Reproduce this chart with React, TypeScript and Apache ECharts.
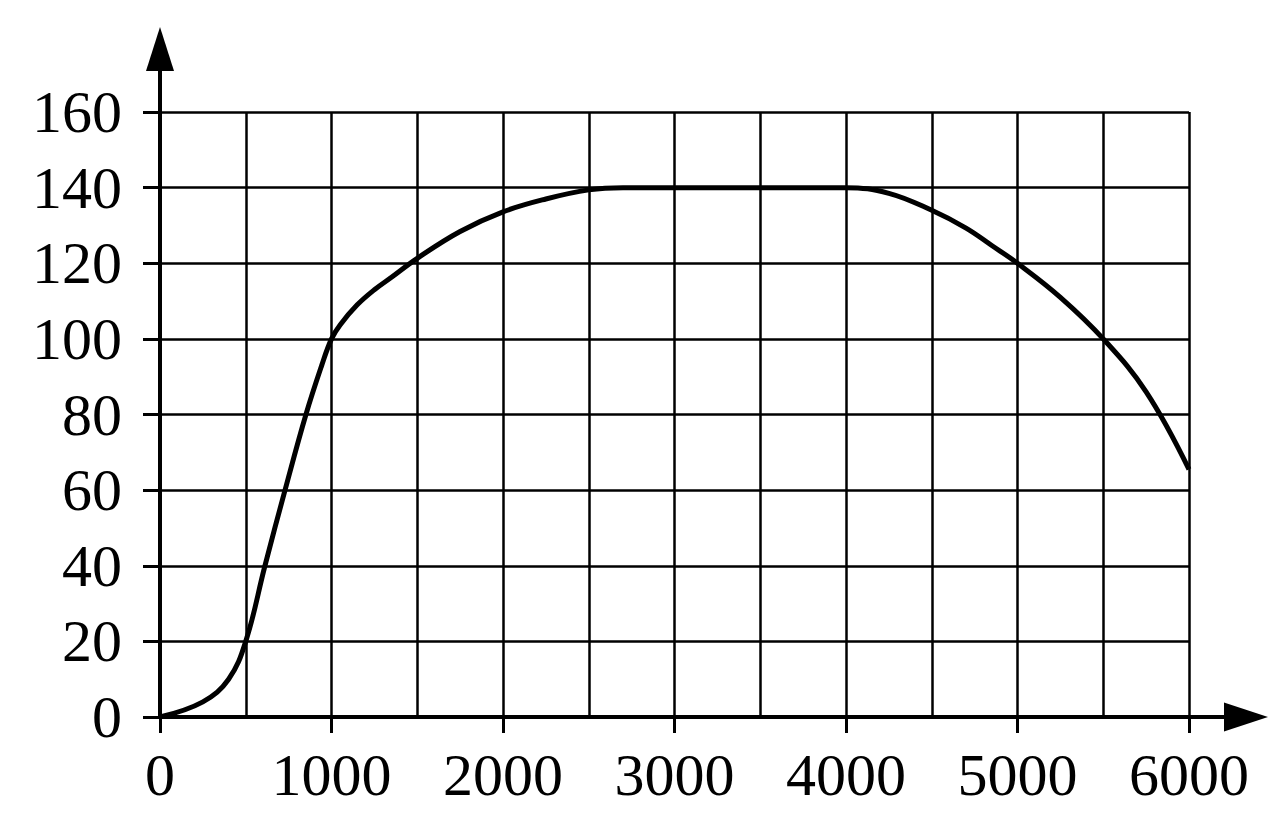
import React, { useEffect, useRef } from "react";
import * as echarts from "echarts";

// Curve samples (x, y)
const curveX = [0, 250, 400, 500, 612, 729, 851, 943, 1000, 1050, 1150, 1250, 1350, 1500, 1750, 2000, 2250, 2500, 2700, 3000, 3500, 4000, 4250, 4500, 4700, 4850, 5000, 5250, 5500, 5750, 6000];
const curveY = [0, 4, 10, 20, 40, 60, 80, 93, 100, 103.7, 109, 113, 116.3, 121.3, 128.4, 133.6, 137, 139.4, 140, 140, 140, 140, 138.5, 134, 129.3, 124.7, 120, 111, 100, 86, 65.5];

const xMin = 0;
const xMax = 6000;
const xGridStep = 500;
const xLabelStep = 1000;
const yMin = 0;
const yMax = 160;
const yStep = 20;

const FONT = "'Liberation Serif', 'Times New Roman', serif";

export default function App() {
  const ref = useRef<HTMLDivElement>(null);

  useEffect(() => {
    if (!ref.current) return;
    const chart = echarts.init(ref.current, undefined, { renderer: "svg" });
    const data = curveX.map((x, i) => [x, curveY[i]]);

    chart.setOption({
      animation: false,
      backgroundColor: "#ffffff",
      grid: { left: 160, right: 95, top: 112, bottom: 99, containLabel: false },
      xAxis: [
        {
          type: "value",
          min: xMin,
          max: xMax,
          interval: xGridStep,
          position: "bottom",
          axisLine: { show: false },
          axisTick: { show: false },
          axisLabel: { show: false },
          splitLine: { show: true, lineStyle: { color: "#000", width: 2.5, type: "solid" } },
        },
        {
          type: "value",
          min: xMin,
          max: xMax,
          interval: xLabelStep,
          position: "bottom",
          offset: 0,
          axisLine: { show: true, onZero: false, lineStyle: { color: "#000", width: 4 } },
          axisTick: { show: true, inside: false, length: 16, lineStyle: { color: "#000", width: 3 } },
          axisLabel: {
            show: true,
            color: "#000",
            fontSize: 60,
            fontFamily: FONT,
            margin: 28,
            formatter: (v: number) => String(v),
          },
          splitLine: { show: false },
        },
      ],
      yAxis: {
        type: "value",
        min: yMin,
        max: yMax,
        interval: yStep,
        axisLine: { show: true, onZero: false, lineStyle: { color: "#000", width: 4 } },
        axisTick: { show: true, inside: false, length: 17, lineStyle: { color: "#000", width: 3 } },
        axisLabel: {
          show: true,
          color: "#000",
          fontSize: 60,
          fontFamily: FONT,
          margin: 38,
          formatter: (v: number) => String(v),
        },
        splitLine: { show: true, lineStyle: { color: "#000", width: 2.5, type: "solid" } },
      },
      series: [
        {
          type: "line",
          xAxisIndex: 0,
          yAxisIndex: 0,
          data,
          smooth: 0.4,
          showSymbol: false,
          symbol: "none",
          lineStyle: { color: "#000", width: 5 },
          z: 5,
        },
      ],
    });

    // Axis arrow extensions, positioned from the axes' own scale
    const o = chart.convertToPixel({ xAxisIndex: 0, yAxisIndex: 0 }, [xMin, yMin]) as number[];
    const t = chart.convertToPixel({ xAxisIndex: 0, yAxisIndex: 0 }, [xMin, yMax]) as number[];
    const r = chart.convertToPixel({ xAxisIndex: 0, yAxisIndex: 0 }, [xMax, yMin]) as number[];
    const ext = 85; // arrow tip distance beyond the grid
    const headLen = 44;
    const headHalf = 14;
    const yTip = t[1] - ext;
    const xTip = r[0] + ext - 6;

    chart.setOption({
      graphic: [
        {
          type: "line",
          shape: { x1: o[0], y1: t[1] + 2, x2: o[0], y2: yTip + headLen - 2 },
          style: { stroke: "#000", lineWidth: 4 },
          z: 10,
        },
        {
          type: "polygon",
          shape: { points: [[o[0], yTip], [o[0] - headHalf, yTip + headLen], [o[0] + headHalf, yTip + headLen]] },
          style: { fill: "#000" },
          z: 10,
        },
        {
          type: "line",
          shape: { x1: r[0] - 2, y1: o[1], x2: xTip - headLen + 2, y2: o[1] },
          style: { stroke: "#000", lineWidth: 4 },
          z: 10,
        },
        {
          type: "polygon",
          shape: { points: [[xTip, o[1]], [xTip - headLen, o[1] - headHalf - 0.5], [xTip - headLen, o[1] + headHalf + 0.5]] },
          style: { fill: "#000" },
          z: 10,
        },
      ],
    });

    return () => chart.dispose();
  }, []);

  return (
    <div
      ref={ref}
      style={{ position: "fixed", left: 0, top: 0, width: 1284, height: 816, background: "#fff" }}
    />
  );
}
